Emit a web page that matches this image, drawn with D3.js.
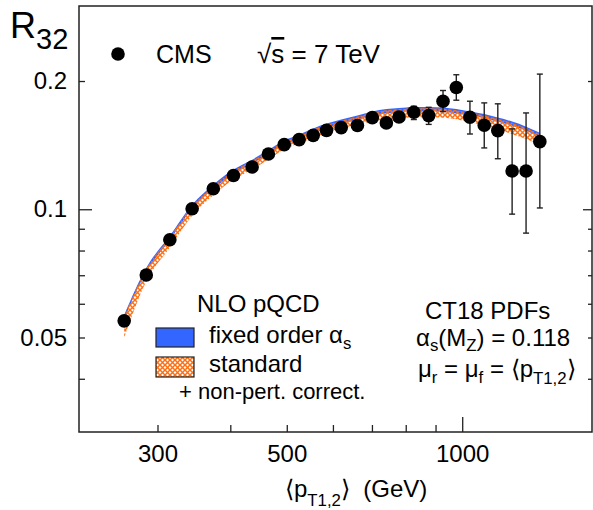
<!DOCTYPE html>
<html>
<head>
<meta charset="utf-8">
<script src="https://cdn.jsdelivr.net/npm/d3@7"></script>
<style>
  body { margin: 0; background: #fff; }
  text { font-family: "Liberation Sans", Arial, sans-serif; fill: #000; white-space: pre; }
</style>
</head>
<body>
<div id="chart"></div>
<script>
// CMS data points: <pT1,2> (GeV) and R32
const ptMean = [263, 287, 315, 344, 374, 405, 436, 465, 495, 525, 555, 585, 620, 661,
                701, 741, 779, 826, 876, 927, 977, 1031, 1091, 1151, 1218, 1287, 1359];
const r32 = [0.0547, 0.0701, 0.0848, 0.1003, 0.1117, 0.1200, 0.1257, 0.1348, 0.1418, 0.1457,
             0.1491, 0.1532, 0.1555, 0.1572, 0.1641, 0.1595, 0.1646, 0.1689, 0.1659, 0.1793,
             0.1931, 0.1644, 0.1575, 0.1530, 0.1230, 0.1230, 0.1441];
const errUp = [0.001, 0.001, 0.001, 0.001, 0.001, 0.0012, 0.0012, 0.0013, 0.0014, 0.0015,
               0.0016, 0.0018, 0.002, 0.0022, 0.003, 0.003, 0.004, 0.0056, 0.0076, 0.0107,
               0.0138, 0.0149, 0.0202, 0.0238, 0.0314, 0.0453, 0.0635];
const errDown = [0.001, 0.001, 0.001, 0.001, 0.001, 0.0012, 0.0012, 0.0013, 0.0014, 0.0015,
                 0.0016, 0.0018, 0.002, 0.0022, 0.003, 0.003, 0.004, 0.0065, 0.0077, 0.0098,
                 0.0128, 0.0142, 0.0182, 0.0216, 0.0256, 0.0351, 0.0434];

// NLO pQCD bands (same pT points)
const fixedHi = [0.0565, 0.0729, 0.0866, 0.1025, 0.1142, 0.1239, 0.1307, 0.1380, 0.1449, 0.1497,
                 0.1547, 0.1589, 0.1624, 0.1660, 0.1696, 0.1719, 0.1728, 0.1738, 0.1738, 0.1733,
                 0.1719, 0.1696, 0.1673, 0.1641, 0.1606, 0.1563, 0.1513];
const fixedLo = [0.0553, 0.0713, 0.0847, 0.1003, 0.1117, 0.1212, 0.1278, 0.1350, 0.1417, 0.1464,
                 0.1513, 0.1554, 0.1588, 0.1623, 0.1659, 0.1681, 0.1690, 0.1700, 0.1700, 0.1695,
                 0.1681, 0.1659, 0.1636, 0.1605, 0.1571, 0.1529, 0.1480];
const stdHi = [0.0561, 0.0724, 0.0860, 0.1018, 0.1134, 0.1230, 0.1298, 0.1370, 0.1439, 0.1486,
               0.1536, 0.1578, 0.1613, 0.1648, 0.1684, 0.1707, 0.1716, 0.1726, 0.1726, 0.1721,
               0.1707, 0.1684, 0.1661, 0.1630, 0.1595, 0.1552, 0.1502];
const stdLo = [0.0500, 0.0678, 0.0813, 0.0966, 0.1078, 0.1174, 0.1240, 0.1309, 0.1382, 0.1427,
               0.1467, 0.1515, 0.1548, 0.1582, 0.1608, 0.1626, 0.1635, 0.1643, 0.1643, 0.1639,
               0.1626, 0.1600, 0.1573, 0.1540, 0.1500, 0.1462, 0.1418];

// axis ticks
const xMinorTicks = [300, 400, 500, 600, 700, 800, 900];
const xMajorTicks = [1000];
const xLabels = [300, 500, 1000];
const yMinorTicks = [0.04, 0.05, 0.06, 0.07, 0.08, 0.09, 0.2];
const yMajorTicks = [0.1];
const yLabels = [0.05, 0.1, 0.2];

const W = 593, H = 510;
const mLeft = 79, mRight = 592, mTop = 6, mBottom = 432;
const blue = '#3366ff', orange = '#ff7012';

const x = d3.scaleLog().domain([220, 1670]).range([mLeft, mRight]);
const y = d3.scaleLog().domain([0.03, 0.3]).range([mBottom, mTop]);

const svg = d3.select('#chart')
  .append('svg')
    .attr('width', W)
    .attr('height', H)
    .style('background', '#fff');

// hatch pattern for the "standard" band
const pat = svg.append('defs')
  .append('pattern')
    .attr('id', 'hatch')
    .attr('patternUnits', 'userSpaceOnUse')
    .attr('width', 5)
    .attr('height', 5);
pat.append('path')
  .attr('d', 'M-1,-1 L6,6 M6,-1 L-1,6')
  .attr('stroke', orange)
  .attr('stroke-width', 1.5)
  .attr('fill', 'none');

// theory bands
const idx = d3.range(ptMean.length);
const fixedArea = d3.area()
  .x(i => x(ptMean[i]))
  .y0(i => y(fixedLo[i]))
  .y1(i => y(fixedHi[i]))
  .curve(d3.curveMonotoneX);
const stdArea = d3.area()
  .x(i => x(ptMean[i]))
  .y0(i => y(stdLo[i]))
  .y1(i => y(stdHi[i]))
  .curve(d3.curveMonotoneX);

svg.append('path').attr('d', fixedArea(idx)).attr('fill', blue);
svg.append('path').attr('d', stdArea(idx)).attr('fill', 'url(#hatch)');

// error bars
const bars = svg.append('g').attr('stroke', '#222').attr('stroke-width', 1.4);
idx.forEach(i => {
  const cx = x(ptMean[i]);
  const y1 = y(r32[i] + errUp[i]), y2 = y(r32[i] - errDown[i]);
  bars.append('line').attr('x1', cx).attr('x2', cx).attr('y1', y1).attr('y2', y2);
  bars.append('line').attr('x1', cx - 3).attr('x2', cx + 3).attr('y1', y1).attr('y2', y1);
  bars.append('line').attr('x1', cx - 3).attr('x2', cx + 3).attr('y1', y2).attr('y2', y2);
});

// data points
svg.append('g')
  .selectAll('circle')
  .data(idx)
  .enter()
  .append('circle')
    .attr('cx', i => x(ptMean[i]))
    .attr('cy', i => y(r32[i]))
    .attr('r', 6.8)
    .attr('fill', '#000');

// axes
const fmt = d => (xLabels.indexOf(d) >= 0 ? d : '');
const fmtY = d => (yLabels.indexOf(d) >= 0 ? d : '');

function styleAxis(g) {
  g.select('.domain').remove();
  g.selectAll('line').attr('stroke', '#222').attr('stroke-width', 1.3);
  g.selectAll('text').attr('font-size', 24).attr('fill', '#000')
    .attr('font-family', '"Liberation Sans", Arial, sans-serif');
}

svg.append('g')
  .attr('transform', `translate(0,${mBottom})`)
  .call(d3.axisBottom(x).tickValues(xMinorTicks).tickSize(-7).tickPadding(13).tickFormat(fmt))
  .call(styleAxis);
svg.append('g')
  .attr('transform', `translate(0,${mBottom})`)
  .call(d3.axisBottom(x).tickValues(xMajorTicks).tickSize(-15).tickPadding(13).tickFormat(fmt))
  .call(styleAxis);

svg.append('g')
  .attr('transform', `translate(${mLeft},0)`)
  .call(d3.axisLeft(y).tickValues(yMinorTicks).tickSize(-6).tickPadding(12).tickFormat(fmtY))
  .call(styleAxis);
svg.append('g')
  .attr('transform', `translate(${mLeft},0)`)
  .call(d3.axisLeft(y).tickValues(yMajorTicks).tickSize(-13).tickPadding(12).tickFormat(fmtY))
  .call(styleAxis);

svg.append('g')
  .attr('transform', `translate(${mRight},0)`)
  .call(d3.axisRight(y).tickValues(yMinorTicks).tickSize(-4).tickFormat(''))
  .call(styleAxis);
svg.append('g')
  .attr('transform', `translate(${mRight},0)`)
  .call(d3.axisRight(y).tickValues(yMajorTicks).tickSize(-9).tickFormat(''))
  .call(styleAxis);

// frame
svg.append('rect')
  .attr('x', mLeft).attr('y', mTop)
  .attr('width', mRight - mLeft).attr('height', mBottom - mTop)
  .attr('fill', 'none')
  .attr('stroke', '#222')
  .attr('stroke-width', 1.5);

// text with subscripts: parts = [text, 'n'|'sub', shift, overline]
function rich(px, py, size, parts, anchor) {
  const t = svg.append('text')
    .attr('x', px).attr('y', py)
    .attr('font-size', size)
    .attr('text-anchor', anchor || 'start');
  let shift = 0;
  parts.forEach(p => {
    const s = p[1] === 'sub' ? (p[2] || size * 0.3) : 0;
    const ts = t.append('tspan')
      .attr('dy', s - shift)
      .attr('font-size', p[1] === 'sub' ? size * 0.7 : size)
      .text(p[0]);
    if (p[3]) ts.style('text-decoration', 'overline');
    shift = s;
  });
  return t;
}

// y title
rich(10, 38, 36, [['R', 'n'], ['32', 'sub', 11]]).selectAll('tspan').filter((d, i) => i === 1).attr('font-size', 29);

// CMS legend
svg.append('circle').attr('cx', 118).attr('cy', 54).attr('r', 6.8).attr('fill', '#000');
rich(156, 63, 25, [['CMS', 'n']]);
rich(257, 63, 26, [['\u221A', 'n'], ['s', 'n', 0, true], [' = 7 TeV', 'n']]);

// x title
rich(285, 497, 24, [['\u27E8p', 'n'], ['T1,2', 'sub', 9], ['\u27E9  (GeV)', 'n']]);

// NLO legend
rich(197, 312, 24, [['NLO pQCD', 'n']]);
svg.append('rect').attr('x', 156).attr('y', 328).attr('width', 38).attr('height', 19)
  .attr('fill', blue).attr('stroke', '#222').attr('stroke-width', 1.2);
rich(209, 343, 24, [['fixed order \u03B1', 'n'], ['s', 'sub', 6]]);
svg.append('rect').attr('x', 156).attr('y', 357).attr('width', 38).attr('height', 20)
  .attr('fill', 'url(#hatch)').attr('stroke', '#222').attr('stroke-width', 1.2);
rich(209, 372, 24, [['standard', 'n']]);
rich(179, 399, 22, [['+ non-pert. correct.', 'n']]);

// PDF info
rich(425, 319, 24, [['CT18 PDFs', 'n']]);
rich(416, 346, 24, [['\u03B1', 'n'], ['s', 'sub', 5], ['(M', 'n'], ['Z', 'sub', 5], [') = 0.118', 'n']]);
rich(418, 377, 24, [['\u03BC', 'n'], ['r', 'sub', 6], [' = \u03BC', 'n'], ['f', 'sub', 6], [' = \u27E8p', 'n'], ['T1,2', 'sub', 7], ['\u27E9', 'n']]);
</script>
</body>
</html>
